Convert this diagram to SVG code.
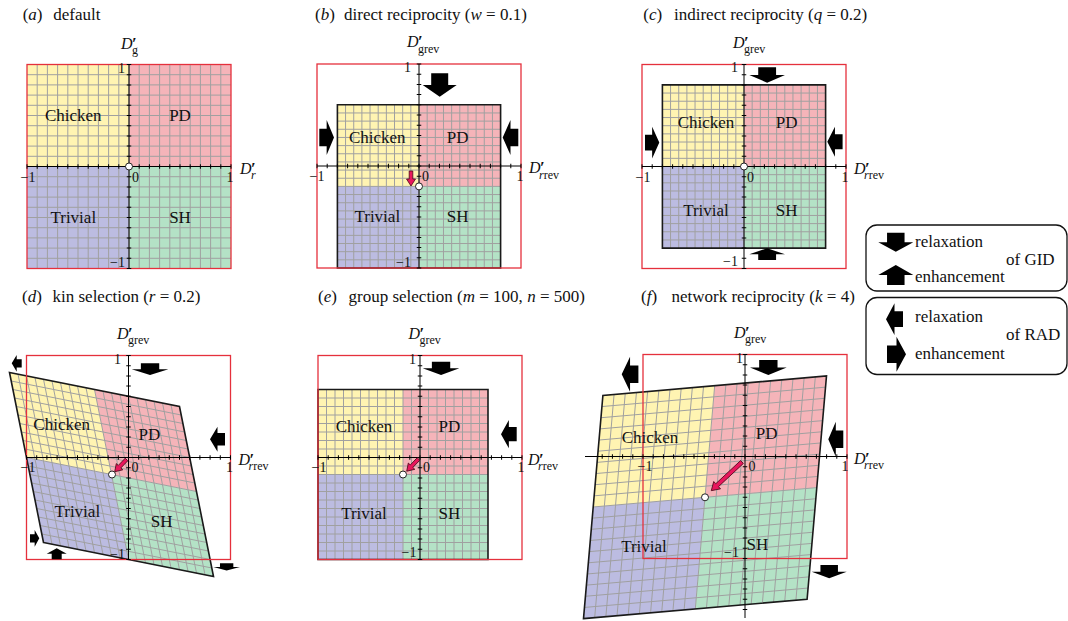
<svg xmlns="http://www.w3.org/2000/svg" xmlns:xlink="http://www.w3.org/1999/xlink" width="1068" height="621" viewBox="0 0 1068 621">
<style>
text{font-family:"Liberation Serif","Times New Roman",serif;fill:#111}
.t{font-size:17px}
.q{font-size:17px;text-anchor:middle}
.n{font-size:14px}
.ne{font-size:14px;text-anchor:end}
.nm{font-size:14px;text-anchor:middle}
.ax{font-size:16px}
.pr{font-size:17px;font-weight:bold}
.sub{font-size:12px}
.i{font-style:italic}
.c1{fill:#fff4b2}.c2{fill:#f5b4b9}.c3{fill:#bcbce1}.c4{fill:#b4e2c6}
.grid{fill:none;stroke:#a0a0a0;stroke-width:1;vector-effect:non-scaling-stroke}
.ol{fill:none;stroke:#1a1a1a;stroke-width:1.6;vector-effect:non-scaling-stroke}
.red{fill:none;stroke:#e5303c;stroke-width:1.3}
.axl{fill:none;stroke:#000;stroke-width:1}
.tk{fill:none;stroke:#000;stroke-width:4.5;stroke-dasharray:1 9.2}
.blk{fill:#000}
.pk{fill:#e8175d;stroke:#4a0818;stroke-width:0.8}
.mk{fill:#fff;stroke:#222;stroke-width:1}
.lg{fill:#fff;stroke:#111;stroke-width:1.3}
</style>
<defs>
<g id="fills">
<rect class="c1" x="-1" y="0" width="1" height="1"/>
<rect class="c2" x="0" y="0" width="1" height="1"/>
<rect class="c3" x="-1" y="-1" width="1" height="1"/>
<rect class="c4" x="0" y="-1" width="1" height="1"/>
</g>
<path id="gr" class="grid" d="M-.9-1V1M-.8-1V1M-.7-1V1M-.6-1V1M-.5-1V1M-.4-1V1M-.3-1V1M-.2-1V1M-.1-1V1M0-1V1M.1-1V1M.2-1V1M.3-1V1M.4-1V1M.5-1V1M.6-1V1M.7-1V1M.8-1V1M.9-1V1M-1-.9H1M-1-.8H1M-1-.7H1M-1-.6H1M-1-.5H1M-1-.4H1M-1-.3H1M-1-.2H1M-1-.1H1M-1 0H1M-1 .1H1M-1 .2H1M-1 .3H1M-1 .4H1M-1 .5H1M-1 .6H1M-1 .7H1M-1 .8H1M-1 .9H1"/>
<rect id="ol" class="ol" x="-1" y="-1" width="2" height="2"/>
<path id="aD" d="M0.25,0H0.75V0.5H1L0.5,1L0,0.5H0.25Z"/>
<path id="aU" d="M0.5,0L1,0.5H0.75V1H0.25V0.5H0Z"/>
<path id="aR" d="M0,0.25H0.5V0L1,0.5L0.5,1V0.75H0Z"/>
<path id="aL" d="M1,0.25H0.5V0L0,0.5L0.5,1V0.75H1Z"/>
</defs>

<!-- Panel a -->
<g id="panel-a">
<text class="t" x="22.7" y="20">(<tspan class="i">a</tspan>)<tspan x="53.3">default</tspan></text>
<g transform="matrix(102,0,0,-102,129,166.5)"><use xlink:href="#fills"/><use xlink:href="#gr"/></g>
<rect class="red" x="27" y="64.5" width="204" height="204"/>
<path class="axl" d="M27,166.5H231M129,64.5V268.5"/>
<path class="tk" d="M26.5,166.5H231.5"/>
<path class="tk" d="M129,64V269"/>
<text class="q" x="73.3" y="121">Chicken</text>
<text class="q" x="180" y="121">PD</text>
<text class="q" x="73.3" y="222.5">Trivial</text>
<text class="q" x="180" y="222.5">SH</text>
<text class="nm" x="28" y="182">−1</text>
<text class="n" x="132" y="182">0</text>
<text class="nm" x="230" y="182">1</text>
<text class="ne" x="125" y="72.5">1</text>
<text class="ne" x="125" y="267">−1</text>
<text class="ax" x="121" y="48.5"><tspan class="i">D</tspan><tspan class="pr" dx="-0.5">′</tspan></text>
<text class="sub" x="132" y="54">g</text>
<text class="ax" x="240" y="173.5"><tspan class="i">D</tspan><tspan class="pr" dx="-0.5">′</tspan></text>
<text class="sub i" x="251" y="179">r</text>
<circle class="mk" cx="129" cy="166.5" r="3.5"/>
</g>

<!-- Panel b -->
<g id="panel-b">
<text class="t" x="315" y="20">(<tspan class="i">b</tspan>)<tspan x="344">direct reciprocity (<tspan class="i">w</tspan> = 0.1)</tspan></text>
<g transform="matrix(81.6,0,0,-81.6,419,186.4)"><use xlink:href="#fills"/><use xlink:href="#gr"/><use xlink:href="#ol"/></g>
<rect class="red" x="317" y="64" width="204" height="204"/>
<path class="axl" d="M317,166H521M419,64V268"/>
<path class="tk" d="M316.5,166H521.5"/>
<path class="tk" d="M419,63.5V268.5"/>
<text class="q" x="377.3" y="142.5">Chicken</text>
<text class="q" x="457.7" y="142.5">PD</text>
<text class="q" x="377.3" y="222">Trivial</text>
<text class="q" x="457.7" y="222">SH</text>
<text class="nm" x="317" y="181">−1</text>
<text class="n" x="422" y="181">0</text>
<text class="nm" x="520" y="181">1</text>
<text class="ne" x="411" y="72">1</text>
<text class="ne" x="411" y="266.5">−1</text>
<text class="ax" x="407" y="47"><tspan class="i">D</tspan><tspan class="pr" dx="-0.5">′</tspan></text>
<text class="sub" x="418" y="52.5">grev</text>
<text class="ax" x="529" y="173"><tspan class="i">D</tspan><tspan class="pr" dx="-0.5">′</tspan></text>
<text class="sub" x="539" y="178.5"><tspan class="i">r</tspan>rev</text>
<use xlink:href="#aD" class="blk" transform="translate(422.7,73.3) scale(34,23.4)"/>
<use xlink:href="#aR" class="blk" transform="translate(319.3,120) scale(14.7,35)"/>
<use xlink:href="#aL" class="blk" transform="translate(502.7,120) scale(15.6,35)"/>
<path class="pk" transform="translate(411,171) rotate(90)" d="M0,-1.8H8V-4.5L15,0L8,4.5V1.8H0Z"/>
<circle class="mk" cx="419" cy="186.4" r="3.5"/>
</g>

<!-- Panel c -->
<g id="panel-c">
<text class="t" x="643.3" y="20">(<tspan class="i">c</tspan>)<tspan x="674">indirect reciprocity (<tspan class="i">q</tspan> = 0.2)</tspan></text>
<g transform="matrix(81.6,0,0,-81.6,744,166.5)"><use xlink:href="#fills"/><use xlink:href="#gr"/><use xlink:href="#ol"/></g>
<rect class="red" x="642" y="64.5" width="204" height="204"/>
<path class="axl" d="M642,166.5H846M744,64.5V268.5"/>
<path class="tk" d="M641.5,166.5H846.5"/>
<path class="tk" d="M744,64V269"/>
<text class="q" x="706" y="128">Chicken</text>
<text class="q" x="786.7" y="128">PD</text>
<text class="q" x="706" y="215.5">Trivial</text>
<text class="q" x="786.7" y="215.5">SH</text>
<text class="nm" x="643" y="181.5">−1</text>
<text class="n" x="747" y="181.5">0</text>
<text class="nm" x="845" y="181.5">1</text>
<text class="ne" x="738" y="72">1</text>
<text class="ne" x="738" y="266">−1</text>
<text class="ax" x="733" y="47.5"><tspan class="i">D</tspan><tspan class="pr" dx="-0.5">′</tspan></text>
<text class="sub" x="744" y="53">grev</text>
<text class="ax" x="854" y="173.5"><tspan class="i">D</tspan><tspan class="pr" dx="-0.5">′</tspan></text>
<text class="sub" x="864" y="179"><tspan class="i">r</tspan>rev</text>
<use xlink:href="#aD" class="blk" transform="translate(749.3,67.3) scale(35.7,15.4)"/>
<use xlink:href="#aU" class="blk" transform="translate(749.3,248.3) scale(35.7,11.7)"/>
<use xlink:href="#aR" class="blk" transform="translate(645,126.7) scale(14.3,31.7)"/>
<use xlink:href="#aL" class="blk" transform="translate(827.3,126.7) scale(15.3,30)"/>
<circle class="mk" cx="744" cy="166.5" r="3.5"/>
</g>

<!-- Panel d -->
<g id="panel-d">
<text class="t" x="22" y="301.5">(<tspan class="i">d</tspan>)<tspan x="52.5">kin selection (<tspan class="i">r</tspan> = 0.2)</tspan></text>
<g transform="matrix(85,17,-17,-85,111.5,474.5)"><use xlink:href="#fills"/><use xlink:href="#gr"/><use xlink:href="#ol"/></g>
<rect class="red" x="26.5" y="355.5" width="204" height="204"/>
<path class="axl" d="M26.5,457.5H230.5M128.5,355.5V559.5"/>
<path class="tk" d="M26,457.5H231"/>
<path class="tk" d="M128.5,355V560"/>
<text class="q" x="61.7" y="429.5">Chicken</text>
<text class="q" x="149.3" y="440">PD</text>
<text class="q" x="77.3" y="516.5">Trivial</text>
<text class="q" x="161.7" y="526.5">SH</text>
<text class="nm" x="28" y="472">−1</text>
<text class="n" x="131.5" y="472">0</text>
<text class="nm" x="229.5" y="472">1</text>
<text class="ne" x="121" y="363.5">1</text>
<text class="ne" x="125" y="558.5">−1</text>
<text class="ax" x="117" y="338.5"><tspan class="i">D</tspan><tspan class="pr" dx="-0.5">′</tspan></text>
<text class="sub" x="128" y="344">grev</text>
<text class="ax" x="238.5" y="464.5"><tspan class="i">D</tspan><tspan class="pr" dx="-0.5">′</tspan></text>
<text class="sub" x="248.5" y="470"><tspan class="i">r</tspan>rev</text>
<use xlink:href="#aL" class="blk" transform="translate(11.7,355) scale(10,16.7)"/>
<use xlink:href="#aD" class="blk" transform="translate(131.7,363.3) scale(36.7,11.7)"/>
<use xlink:href="#aL" class="blk" transform="translate(210,426.7) scale(15,25)"/>
<use xlink:href="#aR" class="blk" transform="translate(30,530) scale(9.3,16.7)"/>
<use xlink:href="#aU" class="blk" transform="translate(46.7,548.3) scale(20,11)"/>
<use xlink:href="#aD" class="blk" transform="translate(213.3,563.3) scale(26.7,7.3)"/>
<path class="pk" transform="translate(126.5,459.5) rotate(134)" d="M0,-1.8H10V-4.5L17,0L10,4.5V1.8H0Z"/>
<circle class="mk" cx="112" cy="474.5" r="3.5"/>
</g>

<!-- Panel e -->
<g id="panel-e">
<text class="t" x="318" y="301.5">(<tspan class="i">e</tspan>)<tspan x="348.5">group selection (<tspan class="i">m</tspan> = 100, <tspan class="i">n</tspan> = 500)</tspan></text>
<g transform="matrix(85,0,0,-85,403,474.5)"><use xlink:href="#fills"/><use xlink:href="#gr"/><use xlink:href="#ol"/></g>
<rect class="red" x="318" y="355.5" width="204" height="204"/>
<path class="axl" d="M318,457.5H522M420,355.5V559.5"/>
<path class="tk" d="M317.5,457.5H522.5"/>
<path class="tk" d="M420,355V560"/>
<text class="q" x="364" y="432">Chicken</text>
<text class="q" x="449.3" y="432">PD</text>
<text class="q" x="364" y="519">Trivial</text>
<text class="q" x="449.3" y="519">SH</text>
<text class="nm" x="319" y="472">−1</text>
<text class="n" x="423" y="472">0</text>
<text class="nm" x="521" y="472">1</text>
<text class="ne" x="416" y="363.5">1</text>
<text class="ne" x="416.5" y="557">−1</text>
<text class="ax" x="408.5" y="338.5"><tspan class="i">D</tspan><tspan class="pr" dx="-0.5">′</tspan></text>
<text class="sub" x="419.5" y="344">grev</text>
<text class="ax" x="528" y="464.5"><tspan class="i">D</tspan><tspan class="pr" dx="-0.5">′</tspan></text>
<text class="sub" x="538" y="470"><tspan class="i">r</tspan>rev</text>
<use xlink:href="#aD" class="blk" transform="translate(422.7,361.7) scale(36.7,13.3)"/>
<use xlink:href="#aL" class="blk" transform="translate(501,420) scale(15.7,28.3)"/>
<path class="pk" transform="translate(418.5,459) rotate(134)" d="M0,-1.8H10V-4.5L17,0L10,4.5V1.8H0Z"/>
<circle class="mk" cx="403" cy="474.5" r="3.5"/>
</g>

<!-- Panel f -->
<g id="panel-f">
<text class="t" x="641" y="301.5">(<tspan class="i">f</tspan>)<tspan x="671.5">network reciprocity (<tspan class="i">k</tspan> = 4)</tspan></text>
<g transform="matrix(111.8,-9.7,9.7,-111.6,705,497.3)"><use xlink:href="#fills"/><use xlink:href="#gr"/><use xlink:href="#ol"/></g>
<rect class="red" x="643" y="354.5" width="204" height="204"/>
<path class="axl" d="M585,456.5H847M745,354.5V618"/>
<path class="tk" d="M601.7,456.5H847.5"/>
<path class="tk" d="M745,354V610"/>
<text class="q" x="650" y="443">Chicken</text>
<text class="q" x="766.7" y="439">PD</text>
<text class="q" x="644" y="552">Trivial</text>
<text class="q" x="757.3" y="549.5">SH</text>
<text class="nm" x="645" y="470.5">−1</text>
<text class="n" x="748.5" y="470.5">0</text>
<text class="nm" x="845" y="470.5">1</text>
<text class="ne" x="743" y="362.5">1</text>
<text class="ne" x="739" y="557">−1</text>
<text class="ax" x="734" y="337.5"><tspan class="i">D</tspan><tspan class="pr" dx="-0.5">′</tspan></text>
<text class="sub" x="745" y="343">grev</text>
<text class="ax" x="854" y="463.5"><tspan class="i">D</tspan><tspan class="pr" dx="-0.5">′</tspan></text>
<text class="sub" x="864" y="469"><tspan class="i">r</tspan>rev</text>
<use xlink:href="#aL" class="blk" transform="translate(621.7,356.7) scale(16.7,35)"/>
<use xlink:href="#aD" class="blk" transform="translate(750,360) scale(36.7,15)"/>
<use xlink:href="#aL" class="blk" transform="translate(828.3,421.7) scale(15,35)"/>
<use xlink:href="#aD" class="blk" transform="translate(811.7,565) scale(35,13.3)"/>
<path class="pk" transform="translate(742,462) rotate(137)" d="M0,-2H34V-5L42,0L34,5V2H0Z"/>
<circle class="mk" cx="705" cy="497.3" r="3.5"/>
</g>

<!-- Legend -->
<g id="legend-gid">
<rect class="lg" x="866" y="225" width="201" height="66" rx="11"/>
<use xlink:href="#aD" class="blk" transform="translate(878.3,232.7) scale(35,19)"/>
<use xlink:href="#aU" class="blk" transform="translate(878.3,265) scale(35,20)"/>
<text class="t" x="915" y="246.5">relaxation</text>
<text class="t" x="1006" y="264.5">of GID</text>
<text class="t" x="915" y="282">enhancement</text>
</g>
<g id="legend-rad">
<rect class="lg" x="866" y="297.5" width="201" height="77" rx="11"/>
<use xlink:href="#aL" class="blk" transform="translate(886,303.3) scale(17,31.7)"/>
<use xlink:href="#aR" class="blk" transform="translate(887,336.7) scale(19,35)"/>
<text class="t" x="915" y="322">relaxation</text>
<text class="t" x="1006" y="339.5">of RAD</text>
<text class="t" x="915" y="358.5">enhancement</text>
</g>
</svg>
